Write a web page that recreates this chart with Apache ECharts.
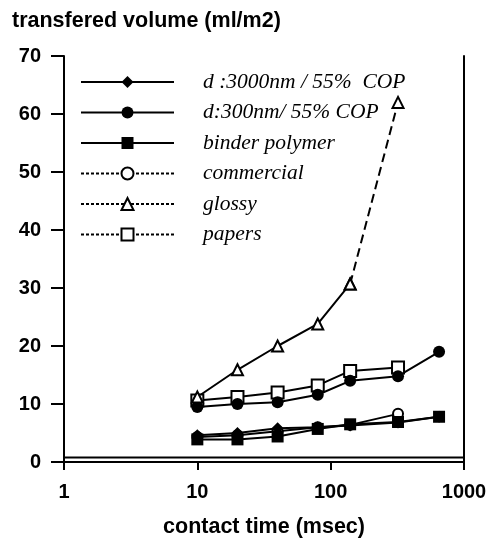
<!DOCTYPE html>
<html>
<head>
<meta charset="utf-8">
<script src="https://cdn.jsdelivr.net/npm/echarts@6/dist/echarts.min.js"></script>
<style>html,body{margin:0;padding:0;background:#fff}#c{width:487px;height:538px}</style>
</head>
<body>
<div id="c"></div>
<script>
// contact time (msec)
const times = [10, 20, 40, 80, 140, 320, 650];
// transferred volume (ml/m2); null = no measurement
const d3000 = [4.6, 5.0, 5.8, 6.0, 6.3, 6.8, 7.8];
const d300 = [9.5, 10.0, 10.3, 11.6, 14.0, 14.8, 19.0];
const binder = [3.9, 3.9, 4.4, 5.7, 6.5, 6.9, 7.8];
const commercial = [4.3, 4.6, 5.3, 6.0, 6.4, 8.3, null];
const glossy = [11.2, 15.9, 20.0, 23.8, 30.7, 62.0, null];
const papers = [10.6, 11.2, 12.0, 13.2, 15.7, 16.3, null];
const yTicks = [0, 10, 20, 30, 40, 50, 60, 70];
const xTicks = [1, 10, 100, 1000];

const names = ['d :3000nm / 55%  COP', 'd:300nm/ 55% COP', 'binder polymer', 'commercial', 'glossy', 'papers'];

function pairs(arr) {
  return times.map((t, i) => arr[i] == null ? null : [t, arr[i]]).filter(p => p);
}

const black = '#000';
const SANS = 'Liberation Sans, Arial, Helvetica, sans-serif';
function mkSeries(name, arr, symbol, filled, size, extra) {
  return Object.assign({
    name: name,
    type: 'line',
    data: pairs(arr),
    symbol: symbol,
    symbolSize: size,
    showSymbol: true,
    lineStyle: { color: black, width: 2 },
    itemStyle: { color: filled ? black : '#fff', borderColor: black, borderWidth: filled ? 0 : 2 },
    emphasis: { disabled: true },
    animation: false
  }, extra || {});
}

// glossy: last measured segment drawn dashed
const gl = pairs(glossy);
const glossySolid = gl.slice(0, gl.length - 1);
const glossyDash = gl.slice(gl.length - 2);

const series = [
  mkSeries(names[3], commercial, 'circle', false, 10),
  mkSeries(names[5], papers, 'rect', false, 12),
  mkSeries(names[1], d300, 'circle', true, 12),
  mkSeries(names[0], d3000, 'diamond', true, 12),
  mkSeries(names[2], binder, 'rect', true, 12),
  Object.assign(mkSeries(names[4], glossy, 'triangle', false, 11), { data: glossySolid }),
  Object.assign(mkSeries('glossy-ext', glossy, 'triangle', false, 11), {
    data: glossyDash,
    lineStyle: { color: black, width: 2, type: [9, 5] }
  })
];

const legendData = names.map((n, i) => {
  const o = { name: n };
  if (i >= 3) o.lineStyle = { type: [3, 2], width: 2, color: black };
  return o;
});

const chart = echarts.init(document.getElementById('c'), null, { renderer: 'canvas' });
chart.setOption({
  animation: false,
  backgroundColor: '#fff',
  title: {
    text: 'transfered volume (ml/m2)',
    left: 7, top: 5,
    textStyle: { fontFamily: SANS, fontWeight: 'bold', fontSize: 21.5, color: '#000' }
  },
  grid: { left: 64, right: 23, top: 56, bottom: 76, containLabel: false, outerBoundsMode: 'none' },
  legend: {
    data: legendData,
    orient: 'vertical',
    left: 75, top: 66,
    itemWidth: 93, itemHeight: 15, itemGap: 8.5,
    selectedMode: false,
    textStyle: { fontFamily: 'Liberation Serif, Times New Roman, serif', fontStyle: 'italic', fontSize: 21.5, color: '#000', padding: [0, 0, 0, 24] }
  },
  xAxis: [{
    type: 'log', logBase: 10, min: 1, max: 1000,
    name: 'contact time (msec)', nameLocation: 'middle', nameGap: 54,
    nameTextStyle: { fontFamily: SANS, fontWeight: 'bold', fontSize: 21.5, color: '#000' },
    axisLine: { lineStyle: { color: black, width: 2 } },
    axisTick: { show: true, length: 8, lineStyle: { color: black, width: 2 } },
    minorTick: { show: false },
    splitLine: { show: false },
    axisLabel: { margin: 20, fontFamily: SANS, fontWeight: 'bold', fontSize: 20, color: '#000',
      formatter: v => xTicks.includes(Math.round(v)) ? String(Math.round(v)) : '' }
  }, {
    type: 'log', logBase: 10, min: 1, max: 1000, position: 'top',
    axisLine: { show: true, lineStyle: { color: black, width: 2 } },
    axisTick: { show: false }, axisLabel: { show: false }, splitLine: { show: false }
  }],
  yAxis: [{
    type: 'value', min: yTicks[0], max: yTicks[yTicks.length - 1], interval: 10,
    axisLine: { show: true, lineStyle: { color: black, width: 2 } },
    axisTick: { show: true, length: 13, lineStyle: { color: black, width: 2 } },
    splitLine: { show: false },
    axisLabel: { margin: 23, fontFamily: SANS, fontWeight: 'bold', fontSize: 20, color: '#000' }
  }, {
    type: 'value', min: 0, max: 70, interval: 10, position: 'right',
    axisLine: { show: true, lineStyle: { color: black, width: 2 } },
    axisTick: { show: false }, axisLabel: { show: false }, splitLine: { show: false }
  }],
  graphic: [{
    type: 'line', shape: { x1: 64, y1: 457.5, x2: 464, y2: 457.5 },
    style: { stroke: black, lineWidth: 2 }, silent: true
  }],
  series: series
});
</script>
</body>
</html>
